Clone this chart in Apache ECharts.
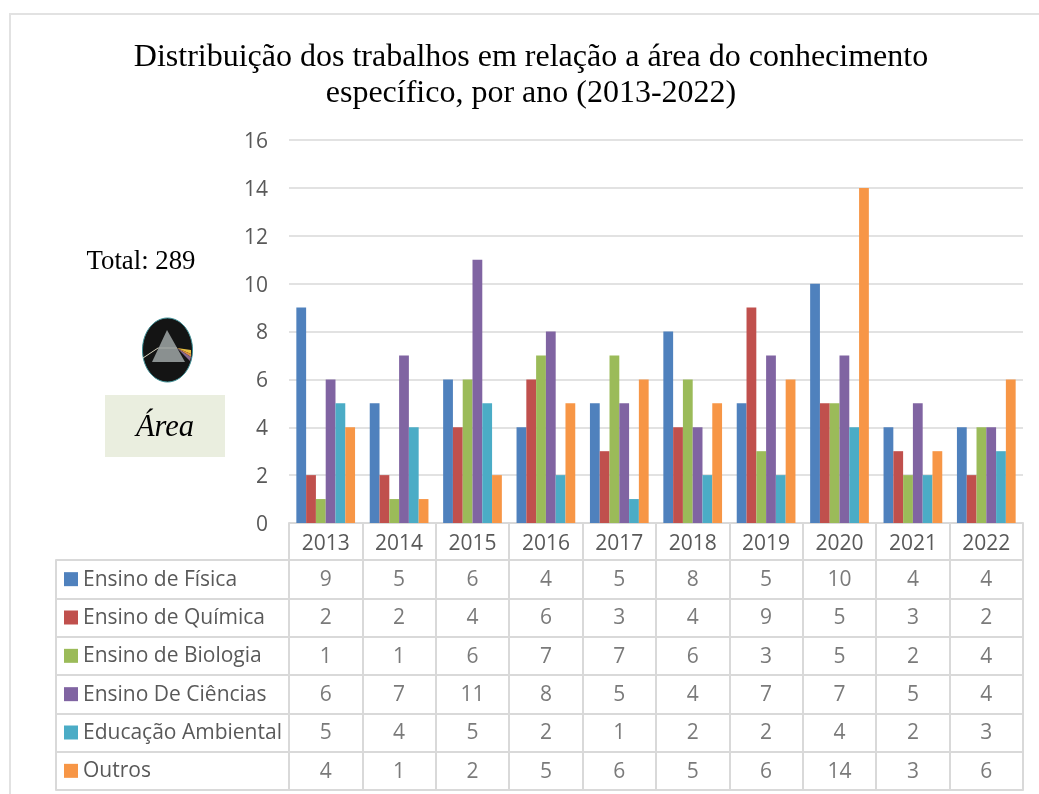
<!DOCTYPE html>
<html><head><meta charset="utf-8">
<style>html,body{margin:0;padding:0;background:#fff}#c{width:1039px;height:794px}</style>
<script src="https://cdn.jsdelivr.net/npm/echarts@6/dist/echarts.min.js"></script>
</head><body><div id="c"></div>
<script>
const years = ['2013','2014','2015','2016','2017','2018','2019','2020','2021','2022'];
const seriesNames = ['Ensino de Física','Ensino de Química','Ensino de Biologia','Ensino De Ciências','Educação Ambiental','Outros'];
const ensinoFisica = [9,5,6,4,5,8,5,10,4,4];
const ensinoQuimica = [2,2,4,6,3,4,9,5,3,2];
const ensinoBiologia = [1,1,6,7,7,6,3,5,2,4];
const ensinoCiencias = [6,7,11,8,5,4,7,7,5,4];
const educacaoAmbiental = [5,4,5,2,1,2,2,4,2,3];
const outros = [4,1,2,5,6,5,6,14,3,6];
const colors = ['#4f81bd','#c0504d','#9bbb59','#8064a2','#4bacc6','#f79646'];
const allValues = [ensinoFisica,ensinoQuimica,ensinoBiologia,ensinoCiencias,educacaoAmbiental,outros];
const titleLines = 'Distribuição dos trabalhos em relação a área do conhecimento\nespecífico, por ano (2013-2022)';

const SANS = '"Open Sans"', SERIF = '"Liberation Serif"';
const GRID = '#d9d9d9', TXT = '#595959';
const rich = {};
colors.forEach((c,i)=>{ rich['k'+i] = {width:14,height:14,backgroundColor:c}; });
rich.n = {fontFamily:SANS,fontSize:21,color:TXT,padding:[1,0,0,5]};

const cellData = [];
allValues.forEach((vals,r)=>vals.forEach((v,c)=>cellData.push([years[c],seriesNames[r],v])));

const chart = echarts.init(document.getElementById('c'),null,{renderer:'canvas'});
chart.setOption({
  animation:false,
  backgroundColor:'#fff',
  title:{text:titleLines,left:526,top:35,textAlign:'center',
    textStyle:{fontFamily:SERIF,fontSize:32,fontWeight:'normal',color:'#000',lineHeight:36,align:'center'}},
  grid:[
    {left:289,top:140,width:734,height:383},
    {left:289,top:560,width:734,height:230},
    {left:56,top:560,width:233,height:230}
  ],
  xAxis:[
    {gridIndex:0,type:'category',data:years,
     axisLine:{lineStyle:{color:GRID,width:2}},
     axisTick:{show:true,length:37,lineStyle:{color:GRID,width:2}},
     axisLabel:{fontFamily:SANS,fontSize:21,color:TXT,margin:11}},
    {gridIndex:1,type:'category',data:years,axisLabel:{show:false},
     axisTick:{show:false},axisLine:{lineStyle:{color:GRID,width:2}},
     splitLine:{show:true,lineStyle:{color:GRID,width:2}}},
    {gridIndex:2,type:'value',min:0,max:1,axisLabel:{show:false},axisTick:{show:false},
     axisLine:{show:false},splitLine:{show:false}}
  ],
  yAxis:[
    {gridIndex:0,type:'value',min:0,max:16,interval:2,
     axisLine:{show:false},axisTick:{show:false},
     axisLabel:{margin:21,formatter:'{v|{value}}',
       rich:{v:{fontFamily:SANS,fontSize:21,color:TXT,padding:[4,0,0,0]}}},
     splitLine:{lineStyle:{color:GRID,width:1.5}}},
    {gridIndex:1,type:'category',data:seriesNames,inverse:true,axisLabel:{show:false},
     axisTick:{show:false},axisLine:{show:true,lineStyle:{color:GRID,width:2}},
     splitLine:{show:true,lineStyle:{color:GRID,width:2}}},
    {gridIndex:2,type:'category',data:seriesNames,inverse:true,
     axisTick:{show:false},axisLine:{show:true,lineStyle:{color:GRID,width:2}},
     splitLine:{show:true,lineStyle:{color:GRID,width:2}},
     axisLabel:{inside:true,margin:8,align:'left',rich,
       formatter:(v,i)=>`{k${i}|}{n|${v}}`}}
  ],
  series:[
    ...allValues.map((vals,i)=>({
      type:'bar',name:seriesNames[i],data:vals,xAxisIndex:0,yAxisIndex:0,
      barGap:0,barCategoryGap:'20%',itemStyle:{color:colors[i]}
    })),
    {type:'scatter',xAxisIndex:1,yAxisIndex:1,data:cellData,symbolSize:0,silent:true,
     label:{show:true,position:'inside',offset:[0,1],formatter:p=>String(p.value[2]),
       fontFamily:SANS,fontSize:21,color:TXT}}
  ],
  graphic:[
    {type:'rect',z:-1,shape:{x:10,y:14,width:1040,height:800},style:{fill:'none',stroke:'#e2e2e2',lineWidth:2}},
    {type:'text',style:{x:141,y:262,text:'Total: 289',align:'center',verticalAlign:'middle',font:'26.8px '+SERIF,fill:'#000'}},
    {type:'ellipse',shape:{cx:167.5,cy:350,rx:25,ry:32},style:{fill:'#141414',stroke:'#3d8f96',lineWidth:1}},
    {type:'polygon',shape:{points:[[167,330],[152,362],[185,362]]},style:{fill:'#8a9090'}},
    {type:'line',shape:{x1:143,y1:358,x2:158,y2:348},style:{stroke:'#d8d4c0',lineWidth:1}},
    {type:'line',shape:{x1:158,y1:348,x2:177,y2:348},style:{stroke:'#a8aca8',lineWidth:1}},
    {type:'polygon',shape:{points:[[177,348],[191,350],[191,354]]},style:{fill:'#e8c040'}},
    {type:'polygon',shape:{points:[[177,348],[191,354],[191,357]]},style:{fill:'#e09040'}},
    {type:'polygon',shape:{points:[[177,348],[191,357],[190,361]]},style:{fill:'#8a6a90'}},
    {type:'rect',shape:{x:105,y:395,width:120,height:62},style:{fill:'#eaeedf'}},
    {type:'text',style:{x:165,y:428,text:'Área',align:'center',verticalAlign:'middle',font:'italic 30.5px '+SERIF,fill:'#000'}}
  ]
});
</script></body></html>
